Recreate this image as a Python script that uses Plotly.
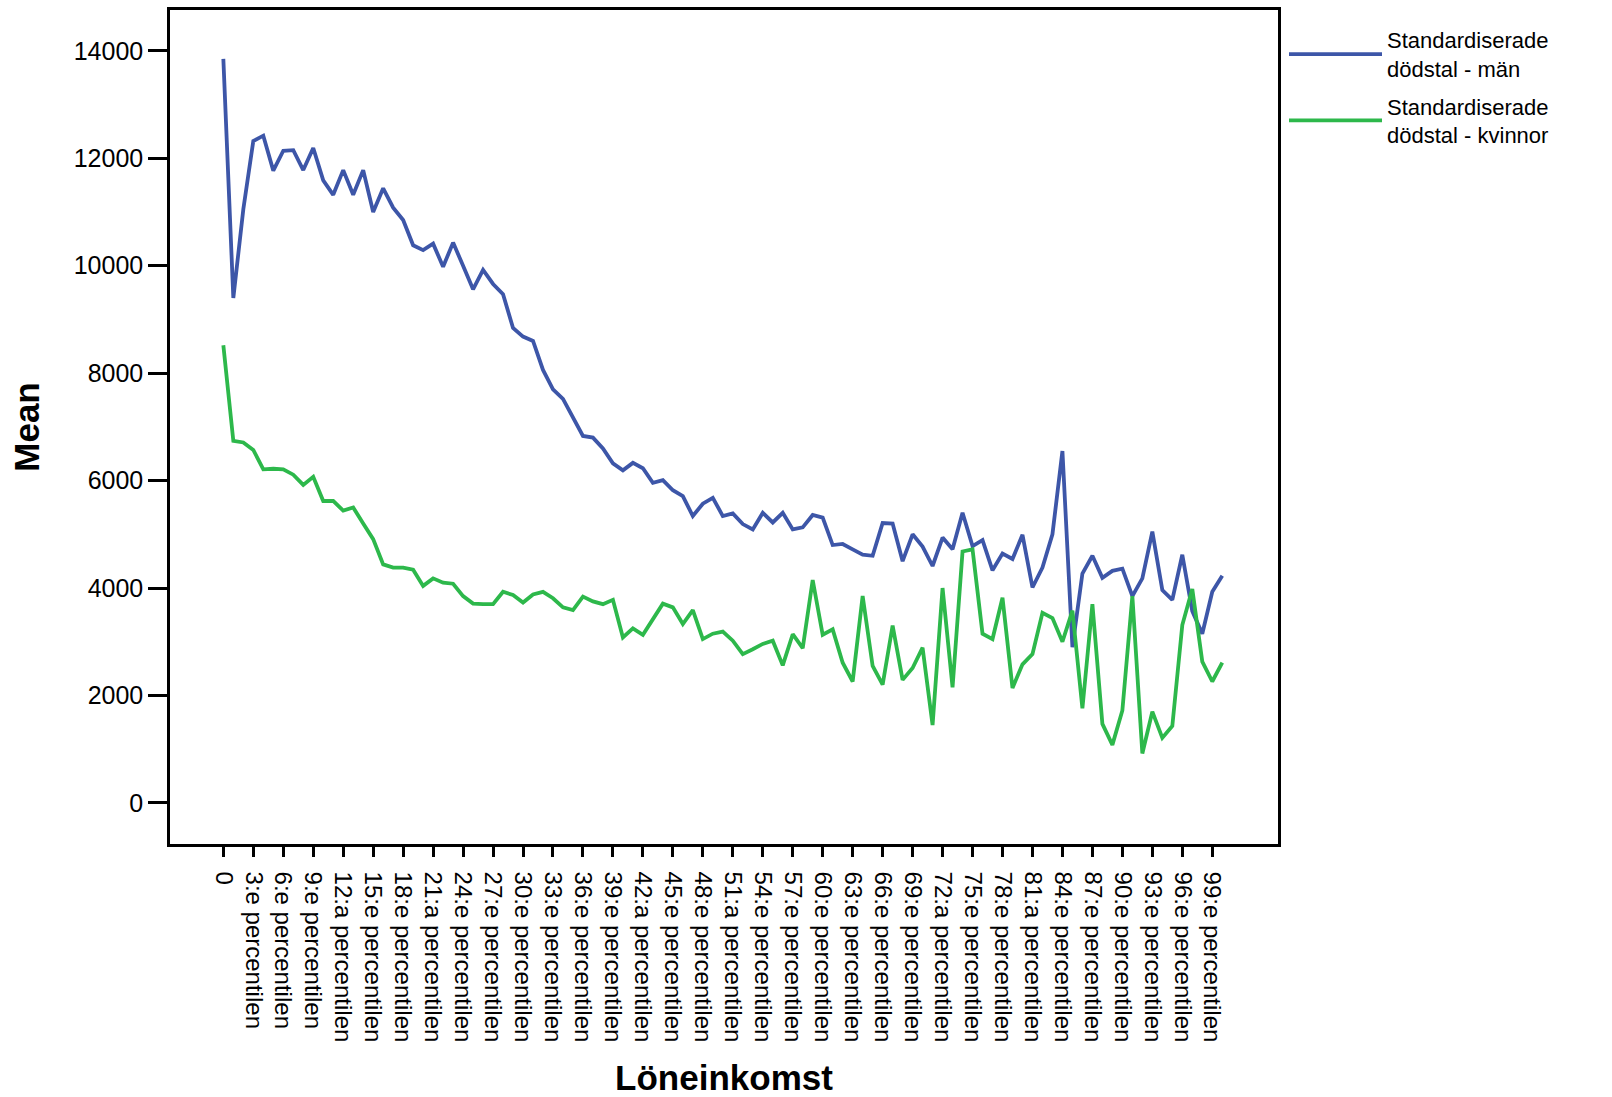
import plotly.graph_objects as go

# ---- data ----
percentile_labels = ["0"] + [
    f"{n}:{'a' if n % 10 in (1, 2) else 'e'} percentilen" for n in range(1, 101)
]
men_values = [
    13850, 9400, 11050, 12320, 12420, 11770, 12140, 12150, 11780, 12190,
    11590, 11320, 11780, 11320, 11780, 11000, 11440, 11080, 10850, 10380,
    10290, 10410, 9980, 10430, 10000, 9560, 9920, 9660, 9470, 8840,
    8680, 8600, 8060, 7700, 7520, 7170, 6830, 6800, 6600, 6320,
    6190, 6330, 6230, 5960, 6010, 5820, 5710, 5340, 5570, 5680,
    5340, 5390, 5190, 5090, 5400, 5220, 5400, 5090, 5130, 5360,
    5310, 4800, 4820, 4720, 4620, 4600, 5210, 5200, 4500, 5000,
    4770, 4410, 4940, 4720, 5400, 4780, 4890, 4330, 4640, 4540,
    4990, 4010, 4380, 5000, 6550, 2900, 4270, 4600, 4190, 4320,
    4360, 3850, 4180, 5050, 3960, 3780, 4620, 3570, 3150, 3930,
    4230,
]
women_values = [
    8520, 6740, 6710, 6570, 6210, 6220, 6210, 6110, 5920, 6070,
    5620, 5620, 5440, 5500, 5200, 4910, 4440, 4380, 4380, 4340,
    4040, 4180, 4100, 4080, 3850, 3710, 3700, 3700, 3930, 3870,
    3730, 3880, 3930, 3810, 3640, 3590, 3840, 3750, 3700, 3780,
    3080, 3250, 3130, 3420, 3710, 3640, 3330, 3590, 3050, 3150,
    3190, 3020, 2770, 2860, 2960, 3020, 2560, 3140, 2880, 4150,
    3130, 3230, 2610, 2260, 3850, 2550, 2200, 3300, 2290, 2510,
    2890, 1450, 4000, 2150, 4680, 4720, 3150, 3050, 3820, 2140,
    2580, 2770, 3540, 3440, 3000, 3580, 1760, 3700, 1470, 1080,
    1720, 3850, 920, 1700, 1210, 1430, 3310, 3980, 2630, 2260,
    2610,
]
series_names = ["Standardiserade<br>dödstal - män", "Standardiserade<br>dödstal - kvinnor"]
x_tick_labels = percentile_labels[::3]
y_tick_values = [0, 2000, 4000, 6000, 8000, 10000, 12000, 14000]
y_tick_text = [str(v) for v in y_tick_values]

BLUE = "#3D56A8"
GREEN = "#2DB84B"

fig = go.Figure()
fig.add_trace(go.Scatter(x=percentile_labels, y=men_values, mode="lines",
                         name=series_names[0], legendgroup="man",
                         line=dict(color=BLUE, width=3.8)))
fig.add_trace(go.Scatter(x=percentile_labels, y=women_values, mode="lines",
                         name=series_names[1], legendgroup="kvinnor",
                         line=dict(color=GREEN, width=3.8)))

W, H = 1612, 1097
ML, MR, MT, MB = 170, 334, 10, 253

fig.update_layout(
    width=W, height=H,
    margin=dict(l=ML, r=MR, t=MT, b=MB, pad=0, autoexpand=False),
    paper_bgcolor="white", plot_bgcolor="white",
    font=dict(family="Liberation Sans, Arial, sans-serif", size=24, color="black"),
    showlegend=True,
    legend=dict(
        x=(1284 - ML) / (W - ML - MR), xanchor="left",
        y=1 - (19 - MT) / (H - MT - MB), yanchor="top",
        font=dict(size=22, color="black"),
        itemwidth=93,
        bgcolor="rgba(0,0,0,0)",
        tracegroupgap=6,
    ),
)

fig.update_xaxes(
    type="category",
    categoryorder="array", categoryarray=percentile_labels,
    range=[-5.34, 105.58],
    tickmode="array", tickvals=x_tick_labels, ticktext=x_tick_labels,
    tickangle=90,
    ticks="outside", ticklen=10, tickwidth=2.5, tickcolor="black",
    ticklabelstandoff=10,
    showline=True, linecolor="black", linewidth=2.5, mirror=True,
    showgrid=False, zeroline=False,
    tickfont=dict(size=24),
    automargin=False,
    title=dict(text="Löneinkomst", font=dict(size=35, weight="bold"), standoff=31),
)
fig.update_yaxes(
    range=[-765, 14760],
    tickmode="array", tickvals=y_tick_values, ticktext=y_tick_text,
    ticks="outside", ticklen=19, tickwidth=2.5, tickcolor="black",
    showline=True, linecolor="black", linewidth=2.5, mirror=True,
    showgrid=False, zeroline=False,
    tickfont=dict(size=25),
    automargin=False,
    title=dict(text="Mean", font=dict(size=35, weight="bold"), standoff=24),
)

fig.write_html("out.html", config={"displayModeBar": False},
               post_script="document.body.style.margin='0';document.body.style.overflow='hidden';")
